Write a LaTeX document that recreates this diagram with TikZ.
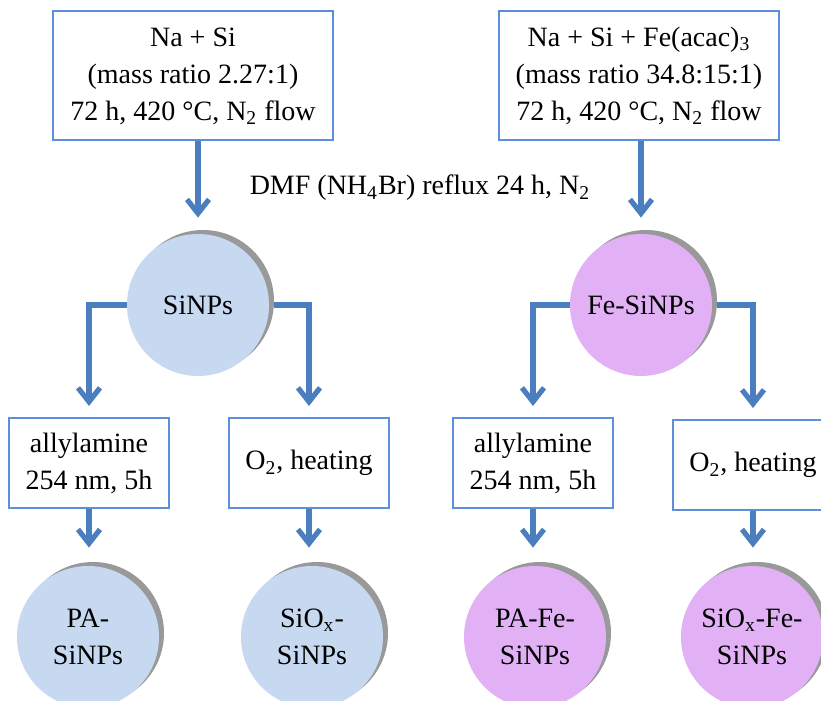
\documentclass[tikz,border=0pt]{standalone}
\usepackage{fontspec}
\setmainfont{Liberation Serif}
\usetikzlibrary{arrows.meta,shadows}
\definecolor{boxblue}{RGB}{91,143,217}
\definecolor{arrblue}{RGB}{74,126,191}
\definecolor{sifill}{RGB}{198,217,240}
\definecolor{fefill}{RGB}{225,176,245}
\begin{document}
\begin{tikzpicture}[x=0.5pt,y=-0.5pt,
  every node/.style={font=\fontsize{14}{18.5}\selectfont,align=center},
  box/.style={draw=boxblue,line width=1pt,inner sep=0pt},
  topbox/.style={box,minimum width=140pt,minimum height=64.5pt},
  subbox/.style={box,minimum width=80pt,minimum height=45pt},
  ball/.style={circle,inner sep=0pt,minimum size=71pt,
    drop shadow={shadow xshift=2.5pt,shadow yshift=2pt,fill=black!40,opacity=1}},
  si/.style={ball,fill=sifill},
  fe/.style={ball,fill=fefill},
  arr/.style={draw=arrblue,line width=2.6pt,-{Straight Barb[length=7pt,width=11pt]}}]
\useasboundingbox (0,0) rectangle (821,701);
% starting mixtures
\node[topbox] (mix) at (193,76) {Na + Si\\(mass ratio 2.27:1)\\72 h, 420 °C, N\textsubscript{2} flow};
\node[topbox] (femix) at (639,76) {Na + Si + Fe(acac)\textsubscript{3}\\(mass ratio 34.8:15:1)\\72 h, 420 °C, N\textsubscript{2} flow};
\node (dmf) at (420,188) {DMF (NH\textsubscript{4}Br) reflux 24 h, N\textsubscript{2}};
% particles
\node[si] (sinp) at (198,305) {SiNPs};
\node[fe] (fesinp) at (641,305) {Fe-SiNPs};
% treatments
\node[subbox] (pa) at (89,463) {allylamine\\254 nm, 5h};
\node[subbox] (ox) at (309,463) {O\textsubscript{2}, heating};
\node[subbox] (fepa) at (533,463) {allylamine\\254 nm, 5h};
\node[subbox] (feox) at (753,465) {O\textsubscript{2}, heating};
% products
\node[si] (pasinp) at (88,637) {PA-\\SiNPs};
\node[si] (oxsinp) at (312,637) {SiO\textsubscript{x}-\\SiNPs};
\node[fe] (pafe) at (535,637) {PA-Fe-\\SiNPs};
\node[fe] (oxfe) at (752,637) {SiO\textsubscript{x}-Fe-\\SiNPs};
% arrows
\draw[arr] (mix.south -| sinp) -- ([yshift=8pt]sinp.north);
\draw[arr] (femix.south -| fesinp) -- ([yshift=8pt]fesinp.north);
\draw[arr] (sinp.west) -| ([yshift=5.5pt]pa.north);
\draw[arr] ([xshift=2.5pt]sinp.east) -| ([yshift=5.5pt]ox.north);
\draw[arr] (fesinp.west) -| ([yshift=5.5pt]fepa.north);
\draw[arr] ([xshift=2.5pt]fesinp.east) -| ([yshift=5.5pt]feox.north);
\draw[arr] (pa.south) -- ([yshift=9pt]pa.south |- pasinp.north);
\draw[arr] (ox.south) -- ([yshift=9pt]ox.south |- oxsinp.north);
\draw[arr] (fepa.south) -- ([yshift=9pt]fepa.south |- pafe.north);
\draw[arr] (feox.south) -- ([yshift=9pt]feox.south |- oxfe.north);
\end{tikzpicture}
\end{document}
